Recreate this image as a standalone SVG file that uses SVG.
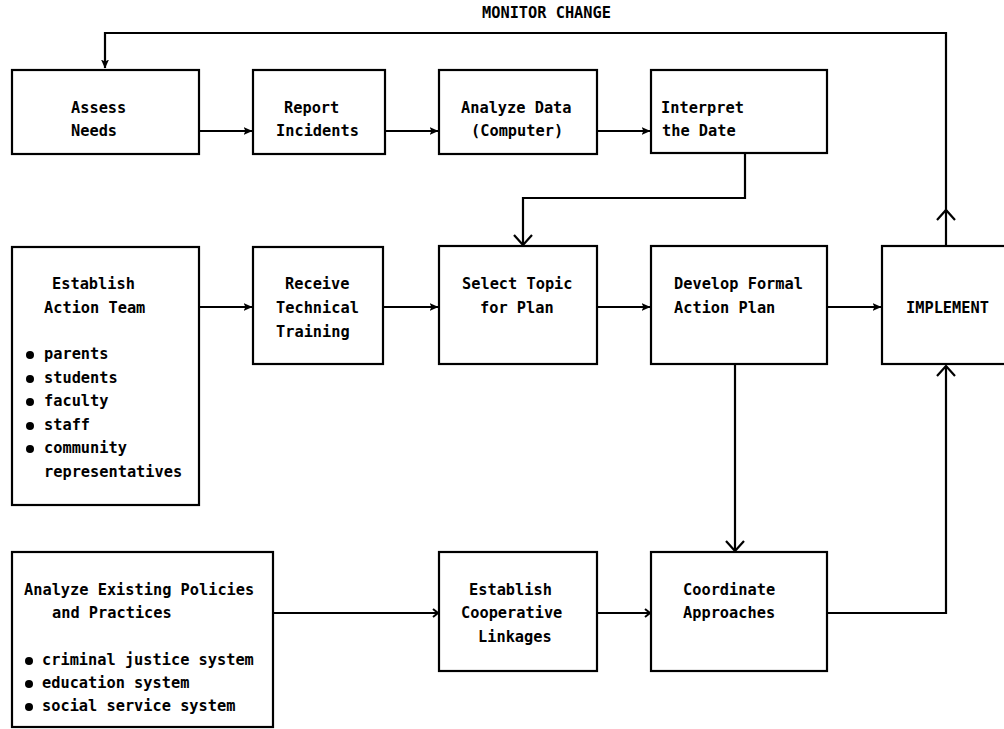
<svg xmlns="http://www.w3.org/2000/svg" width="1004" height="729" viewBox="0 0 1004 729">
<style>
  .box { fill: #fff; stroke: #000; stroke-width: 2.2; }
  .t { font-family: "DejaVu Sans Mono", "Liberation Mono", monospace; font-weight: bold; font-size: 15.3px; fill: #000; }
  .ln { fill: none; stroke: #000; stroke-width: 2.2; }
  .ln2 { fill: none; stroke: #000; stroke-width: 1.8; }
  .dot { fill: #000; }
</style>
<defs>
  <marker id="ah" viewBox="0 0 9 8" refX="8.5" refY="4" markerWidth="9" markerHeight="8" orient="auto" markerUnits="userSpaceOnUse">
    <path d="M0,0 L9,4 L0,8 L2,4 z" fill="#000"/>
  </marker>
  <marker id="vee" viewBox="0 0 12 20" refX="11" refY="10" markerWidth="12" markerHeight="20" orient="auto" markerUnits="userSpaceOnUse">
    <path d="M1,1 L11,10 L1,19" fill="none" stroke="#000" stroke-width="2.2"/>
  </marker>
  <marker id="open" viewBox="0 0 7 10" refX="6" refY="5" markerWidth="7" markerHeight="10" orient="auto" markerUnits="userSpaceOnUse">
    <path d="M1,1 L6,5 L1,9" fill="none" stroke="#000" stroke-width="2"/>
  </marker>
</defs>
<rect width="1004" height="729" fill="#fff"/>

<g id="connectors">
  <path class="ln" d="M946,246 V33 H105 V68" marker-end="url(#ah)"/>
  <path class="ln" d="M937,220 L946,210 L955,220"/>
  <path class="ln" d="M199,131 H252" marker-end="url(#ah)"/>
  <path class="ln" d="M385,131 H438" marker-end="url(#ah)"/>
  <path class="ln" d="M597,131 H650" marker-end="url(#ah)"/>
  <path class="ln" d="M745,153 V198 H523 V245" marker-end="url(#vee)"/>
  <path class="ln" d="M199,307 H252" marker-end="url(#ah)"/>
  <path class="ln" d="M383,307 H438" marker-end="url(#ah)"/>
  <path class="ln2" d="M597,307 H650" marker-end="url(#ah)"/>
  <path class="ln2" d="M827,307 H881" marker-end="url(#ah)"/>
  <path class="ln" d="M735,364 V551" marker-end="url(#vee)"/>
  <path class="ln" d="M827,613 H946 V366" marker-end="url(#vee)"/>
  <path class="ln2" d="M273,613 H438" marker-end="url(#open)"/>
  <path class="ln2" d="M597,613 H650" marker-end="url(#open)"/>
  <text class="t" x="482" y="18">MONITOR CHANGE</text>
</g>

<g id="assess">
  <rect class="box" x="12" y="70" width="187" height="84"/>
  <text class="t" x="71" y="113">Assess</text>
  <text class="t" x="71" y="136">Needs</text>
</g>
<g id="report">
  <rect class="box" x="253" y="70" width="132" height="84"/>
  <text class="t" x="284" y="113">Report</text>
  <text class="t" x="276" y="136">Incidents</text>
</g>
<g id="analyze-data">
  <rect class="box" x="439" y="70" width="158" height="84"/>
  <text class="t" x="461" y="113">Analyze Data</text>
  <text class="t" x="471" y="136">(Computer)</text>
</g>
<g id="interpret">
  <rect class="box" x="651" y="70" width="176" height="83"/>
  <text class="t" x="661" y="113">Interpret</text>
  <text class="t" x="662" y="136">the Date</text>
</g>

<g id="establish-team">
  <rect class="box" x="12" y="247" width="187" height="258"/>
  <text class="t" x="52" y="289">Establish</text>
  <text class="t" x="44" y="313">Action Team</text>
  <circle class="dot" cx="30" cy="355" r="4"/>
  <text class="t" x="44" y="359">parents</text>
  <circle class="dot" cx="30" cy="379" r="4"/>
  <text class="t" x="44" y="383">students</text>
  <circle class="dot" cx="30" cy="402" r="4"/>
  <text class="t" x="44" y="406">faculty</text>
  <circle class="dot" cx="30" cy="426" r="4"/>
  <text class="t" x="44" y="430">staff</text>
  <circle class="dot" cx="30" cy="449" r="4"/>
  <text class="t" x="44" y="453">community</text>
  <text class="t" x="44" y="477">representatives</text>
</g>
<g id="receive">
  <rect class="box" x="253" y="247" width="130" height="117"/>
  <text class="t" x="285" y="289">Receive</text>
  <text class="t" x="276" y="313">Technical</text>
  <text class="t" x="276" y="337">Training</text>
</g>
<g id="select">
  <rect class="box" x="439" y="246" width="158" height="118"/>
  <text class="t" x="462" y="289">Select Topic</text>
  <text class="t" x="480" y="313">for Plan</text>
</g>
<g id="develop">
  <rect class="box" x="651" y="246" width="176" height="118"/>
  <text class="t" x="674" y="289">Develop Formal</text>
  <text class="t" x="674" y="313">Action Plan</text>
</g>
<g id="implement">
  <rect class="box" x="882" y="246" width="126" height="118"/>
  <text class="t" x="906" y="313">IMPLEMENT</text>
</g>

<g id="analyze-policies">
  <rect class="box" x="12" y="552" width="261" height="175"/>
  <text class="t" x="24" y="595">Analyze Existing Policies</text>
  <text class="t" x="52" y="618">and Practices</text>
  <circle class="dot" cx="29" cy="661" r="4"/>
  <text class="t" x="42" y="665">criminal justice system</text>
  <circle class="dot" cx="29" cy="684" r="4"/>
  <text class="t" x="42" y="688">education system</text>
  <circle class="dot" cx="29" cy="707" r="4"/>
  <text class="t" x="42" y="711">social service system</text>
</g>
<g id="establish-linkages">
  <rect class="box" x="439" y="552" width="158" height="119"/>
  <text class="t" x="469" y="595">Establish</text>
  <text class="t" x="461" y="618">Cooperative</text>
  <text class="t" x="478" y="642">Linkages</text>
</g>
<g id="coordinate">
  <rect class="box" x="651" y="552" width="176" height="119"/>
  <text class="t" x="683" y="595">Coordinate</text>
  <text class="t" x="683" y="618">Approaches</text>
</g>
</svg>
